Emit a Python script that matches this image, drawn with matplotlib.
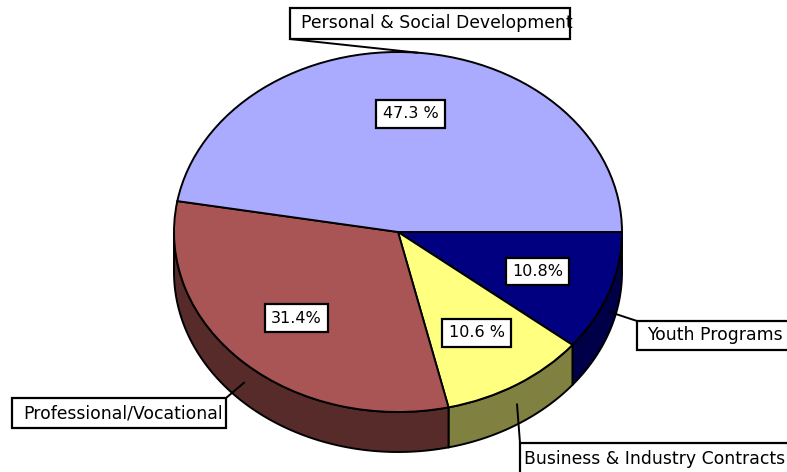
import numpy as np
import matplotlib
matplotlib.use("Agg")
import matplotlib.pyplot as plt
from matplotlib.patches import Rectangle, Polygon

# slices, clockwise from 3 o'clock
categories = ["Youth Programs", "Business & Industry Contracts",
              "Professional/Vocational", "Personal & Social Development"]
shares = [10.8, 10.6, 31.4, 47.3]
pct_labels = ["10.8%", "10.6 %", "31.4%", "47.3 %"]
top_colors = ["#000080", "#FFFF80", "#AA5555", "#AAAAFF"]
side_colors = ["#000048", "#808040", "#582B2B", "#55557F"]

W, H = 787, 472
CX, CY = 398, 232        # pie centre in pixels
RX, RY = 224, 180        # ellipse radii in pixels
DEPTH = 40 / RY          # side wall depth in data units

# label boxes in pixel space: (left, top, width, height, text x offset)
label_boxes = [
    (637, 321, 170, 29, 10),
    (520, 443, 290, 40, 4),
    (12, 398, 214, 30, 11),
    (290, 8, 280, 31, 11),
]
# which corner of the box the leader line meets
leader_corner = [(637, 321), (520, 443), (226, 398), (290, 39)]
# leader anchor on rim: on the top edge (0) or halfway down the side (1)
on_side = [1, 1, 1, 0]

fig = plt.figure(figsize=(W / 100, H / 100), dpi=100)
ax = fig.add_axes([0, 0, 1, 1])

wedges, _ = ax.pie(shares, startangle=0, counterclock=False, radius=1,
                   colors=top_colors,
                   wedgeprops=dict(edgecolor="black", linewidth=1.4, zorder=3))

ax.set_aspect("auto")
ax.set_xlim(-CX / RX, (W - CX) / RX)
ax.set_ylim(-(H - CY) / RY, CY / RY)
ax.axis("off")


def px_to_data(x, y):
    return (x - CX) / RX, (CY - y) / RY


# front side walls
for w, col in zip(wedges, side_colors):
    t1, t2 = max(w.theta1, -180), min(w.theta2, 0)
    if t2 <= t1:
        continue
    t = np.radians(np.linspace(t1, t2, 80))
    top = np.column_stack([np.cos(t), np.sin(t)])
    bot = top[::-1] - [0, DEPTH]
    ax.add_patch(Polygon(np.vstack([top, bot]), closed=True, facecolor=col,
                         edgecolor="black", linewidth=1.4, zorder=2))

label_font = dict(family="DejaVu Sans", fontsize=12.4, color="black")
pct_font = dict(family="DejaVu Sans", fontsize=11.5, color="black")

for i, w in enumerate(wedges):
    mid = np.radians((w.theta1 + w.theta2) / 2)
    # percentage boxes
    ax.text(0.66 * np.cos(mid), 0.66 * np.sin(mid), pct_labels[i],
            ha="center", va="center", zorder=5,
            bbox=dict(boxstyle="square,pad=0.4", facecolor="white",
                      edgecolor="black", linewidth=1.6), **pct_font)

    # category boxes
    left, top, bw, bh, off = label_boxes[i]
    x0, y0 = px_to_data(left, top + bh)
    x1, y1 = px_to_data(left + bw, top)
    ax.add_patch(Rectangle((x0, y0), x1 - x0, y1 - y0, facecolor="white",
                           edgecolor="black", linewidth=1.6, zorder=5,
                           clip_on=False))
    tx, ty = px_to_data(left + off, top + bh / 2)
    if i == 1:
        ty = px_to_data(0, 459)[1]
    ax.text(tx, ty, categories[i], ha="left", va="center", zorder=6,
            **label_font)

    # leader line
    ax_x, ax_y = np.cos(mid), np.sin(mid) - on_side[i] * DEPTH / 2
    cx, cy = px_to_data(*leader_corner[i])
    ax.plot([ax_x, cx], [ax_y, cy], color="black", linewidth=1.4, zorder=4)

fig.savefig("out.png", dpi=100)
